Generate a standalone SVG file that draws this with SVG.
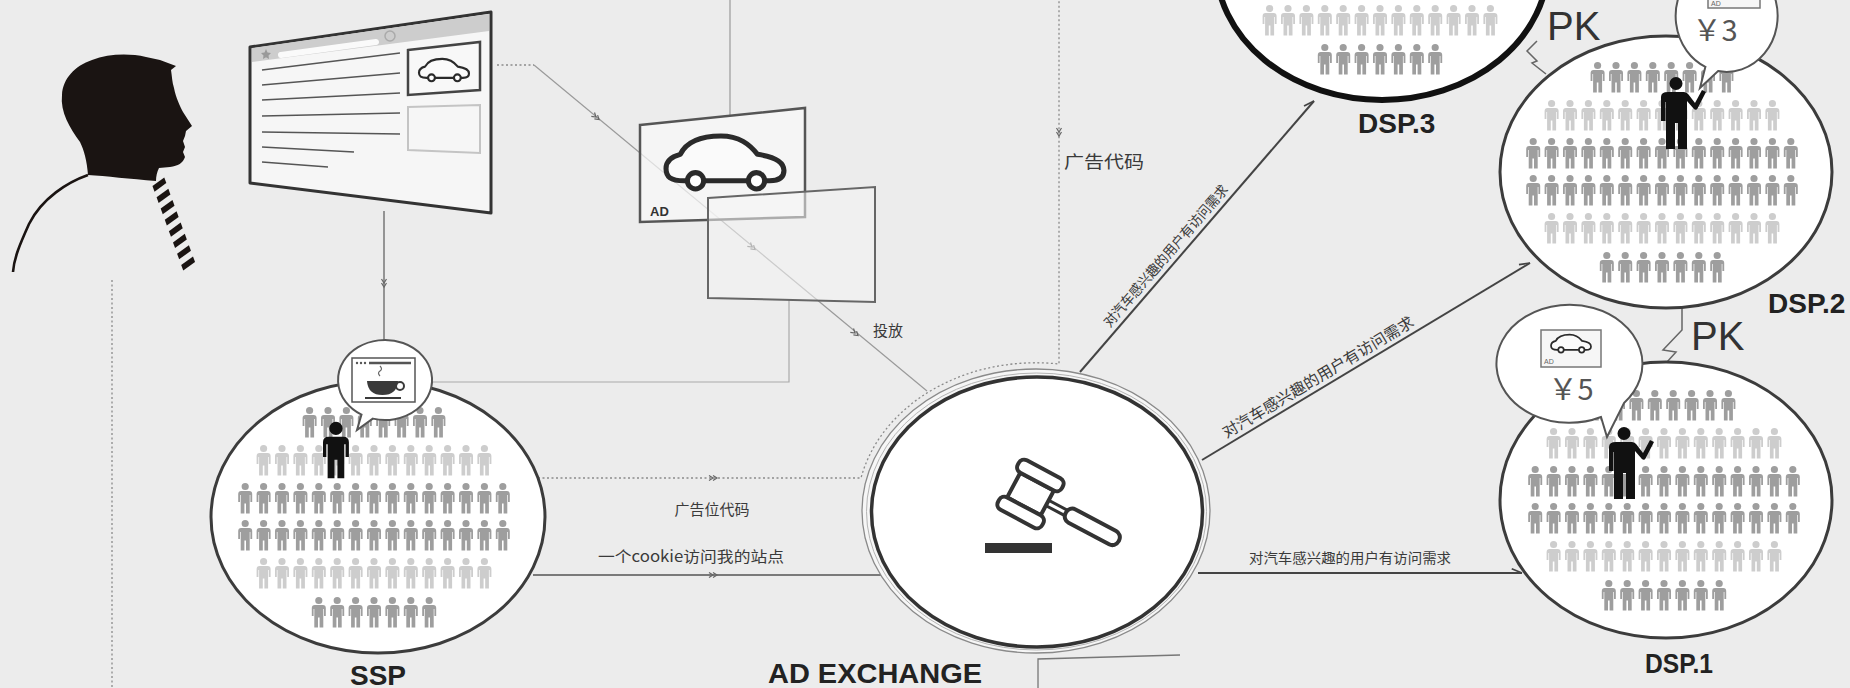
<svg xmlns="http://www.w3.org/2000/svg" xmlns:xlink="http://www.w3.org/1999/xlink" width="1850" height="688" viewBox="0 0 1850 688">
<style>
  .cjk{font-family:"Noto Sans CJK SC","Noto Sans",sans-serif;fill:#3a3a3a}
  .lbl{font-family:"Liberation Sans",Arial,sans-serif;font-weight:bold;fill:#222;font-size:28px}
  .pk{font-family:"Liberation Sans",Arial,sans-serif;fill:#333;font-size:40px}
  .yen{font-family:"Noto Sans CJK SC",sans-serif;fill:#555;font-size:29px}
  .light{fill:#cdcdcd}
  .mid{fill:#9e9e9e}
  .ring{fill:#fff;stroke:#3c3c3c;stroke-width:3}
  .conn{stroke:#444;stroke-width:2;fill:none}
  .dot{stroke:#8a8a8a;stroke-width:1.3;fill:none;stroke-dasharray:2 2.5}
  .thin{stroke:#9a9a9a;stroke-width:1.2;fill:none}
  .mk{fill:none;stroke:#666;stroke-width:1.2}
  .bub{fill:#fff;stroke:#555;stroke-width:2}
</style>
<defs>
  <!-- small person pictogram, 14 x 31 -->
  <path id="p" d="M3,8.5 H11 Q14,8.5 14,11.5 V19.5 H12.2 V12.5 H11.5 V31 H7.8 V21 H6.2 V31 H2.5 V12.5 H1.8 V19.5 H0 V11.5 Q0,8.5 3,8.5 Z M10.6,4 A3.6,3.6 0 1 1 3.4,4 A3.6,3.6 0 1 1 10.6,4 Z"/>
  <!-- person raising an arm -->
  <path id="pm" d="M8,15 H24 Q27,15 28.5,17.5 L35,26 L42,13 L46,15 L37.5,31.5 Q36,34 33.5,31.5 L27,24 V72 H18 V46 H15 V72 H6 V25 H5.5 V44 H1 V20 Q1,15 8,15 Z M22.5,6.5 A6.5,6.5 0 1 1 9.5,6.5 A6.5,6.5 0 1 1 22.5,6.5 Z"/>
  <g id="r15">
    <use href="#p" x="-135.8"/><use href="#p" x="-117.4"/><use href="#p" x="-99"/><use href="#p" x="-80.6"/><use href="#p" x="-62.2"/><use href="#p" x="-43.8"/><use href="#p" x="-25.4"/><use href="#p" x="-7"/><use href="#p" x="11.4"/><use href="#p" x="29.8"/><use href="#p" x="48.2"/><use href="#p" x="66.6"/><use href="#p" x="85"/><use href="#p" x="103.4"/><use href="#p" x="121.8"/>
  </g>
  <g id="r13">
    <use href="#p" x="-117.4"/><use href="#p" x="-99"/><use href="#p" x="-80.6"/><use href="#p" x="-62.2"/><use href="#p" x="-43.8"/><use href="#p" x="-25.4"/><use href="#p" x="-7"/><use href="#p" x="11.4"/><use href="#p" x="29.8"/><use href="#p" x="48.2"/><use href="#p" x="66.6"/><use href="#p" x="85"/><use href="#p" x="103.4"/>
  </g>
  <g id="r8">
    <use href="#p" x="-71.4"/><use href="#p" x="-53"/><use href="#p" x="-34.6"/><use href="#p" x="-16.2"/><use href="#p" x="2.2"/><use href="#p" x="20.6"/><use href="#p" x="39"/><use href="#p" x="57.4"/>
  </g>
  <g id="r7">
    <use href="#p" x="-62.2"/><use href="#p" x="-43.8"/><use href="#p" x="-25.4"/><use href="#p" x="-7"/><use href="#p" x="11.4"/><use href="#p" x="29.8"/><use href="#p" x="48.2"/>
  </g>
  <!-- car outline -->
  <symbol id="car" viewBox="0 0 120 58" overflow="visible">
    <path d="M20,46 C6,46 2,42 2,34 C2,26 8,22 16,20 C22,8 36,2 56,2 C74,2 84,10 92,20 C106,22 118,26 118,36 C118,42 114,46 104,46 Z" fill="#fafafa" stroke="#2a2a2a" stroke-width="5" stroke-linejoin="round"/>
    <circle cx="31" cy="46" r="8" fill="#fff" stroke="#2a2a2a" stroke-width="5"/>
    <circle cx="91" cy="46" r="8" fill="#fff" stroke="#2a2a2a" stroke-width="5"/>
  </symbol>
  <!-- double chevron flow mark -->
  <path id="mk" class="mk" d="M-4,-2.5 L0,0 L-4,2.5 M0,-2.5 L4,0 L0,2.5"/>
  <marker id="harp" markerUnits="userSpaceOnUse" markerWidth="16" markerHeight="12" viewBox="-14 -7 16 14" refX="0" refY="0" orient="auto" overflow="visible">
    <path d="M-12,-5 L0,0" fill="none" stroke="#444" stroke-width="2"/>
  </marker>
  <clipPath id="cut"><rect x="0" y="0" width="260" height="272"/></clipPath>
</defs>

<rect width="1850" height="688" fill="#ececec"/>

<!-- connectors -->
<g id="connectors">
  <path class="dot" d="M112,280 V688"/>
  <path d="M384,211 V358" stroke="#777" stroke-width="1.5" fill="none"/>
  <use href="#mk" transform="translate(384,283) rotate(90)"/>
  <path d="M432,382 H789 V300" stroke="#aaa" stroke-width="1.2" fill="none"/>
  <path class="thin" d="M730,0 V116"/>
  <path class="dot" d="M497,65 H534"/>
  <path class="thin" d="M534,65 L927,391"/>
  <use href="#mk" transform="translate(596,117) rotate(39.7)"/>
  <use href="#mk" transform="translate(752,247) rotate(39.7)"/>
  <use href="#mk" transform="translate(855,333) rotate(39.7)"/>
  <text class="cjk" x="873" y="336" font-size="15">投放</text>

  <path class="dot" d="M538,478 H861 A179,147 0 0 1 1059,364 V0"/>
  <use href="#mk" transform="translate(713,478)"/>
  <use href="#mk" transform="translate(1059,132) rotate(90)"/>
  <text class="cjk" x="1064" y="168" font-size="17" textLength="80" lengthAdjust="spacingAndGlyphs">广告代码</text>
  <text class="cjk" x="712" y="515" font-size="15" text-anchor="middle">广告位代码</text>

  <path d="M533,575 H881" stroke="#555" stroke-width="1.6" fill="none"/>
  <use href="#mk" transform="translate(713,575)"/>
  <text class="cjk" x="691" y="562" font-size="15" text-anchor="middle" textLength="186" lengthAdjust="spacingAndGlyphs">一个cookie访问我的站点</text>

  <path d="M1038,688 V659 L1180,655" stroke="#777" stroke-width="1.3" fill="none"/>

  <path class="conn" d="M1080,372 L1314,101" marker-end="url(#harp)"/>
  <text class="cjk" font-size="14" text-anchor="middle" transform="translate(1174,263) rotate(-49.2)" y="-6" textLength="182" lengthAdjust="spacingAndGlyphs">对汽车感兴趣的用户有访问需求</text>
  <path class="conn" d="M1202,460 L1530,263" marker-end="url(#harp)"/>
  <text class="cjk" font-size="15.5" text-anchor="middle" transform="translate(1324,387) rotate(-31)" y="-6" textLength="220" lengthAdjust="spacingAndGlyphs">对汽车感兴趣的用户有访问需求</text>
  <path class="conn" d="M1198,573 H1522" marker-end="url(#harp)"/>
  <text class="cjk" font-size="14" text-anchor="middle" x="1350" y="563" textLength="202" lengthAdjust="spacingAndGlyphs">对汽车感兴趣的用户有访问需求</text>

  <polyline points="1537,41 1527,51 1537,61 1532,63 1546,74" fill="none" stroke="#666" stroke-width="1.5"/>
  <polyline points="1682,308 1682,330 1663,350 1676,352 1667,362" fill="none" stroke="#666" stroke-width="1.5"/>
  <text class="pk" x="1547" y="40">PK</text>
  <text class="pk" x="1691" y="350">PK</text>
</g>

<!-- visitor -->
<g id="visitor">
  <path fill="#1a1412" d="M88,175 C87,161 84,150 80,142 C70,128 60,112 62,95 C63,78 75,66 92,60 C108,54 128,53 146,57 L160,60 L176,66 L171,70 C172,76 172,82 174,88 C176,98 180,106 183,112 L192,126 L186,131 L185,136 L183,141 L185,147 L183,152 L185,157 C183,163 178,166 170,167 L159,168 C157,172 156,176 156,181 C130,179 106,176 88,175 Z"/>
  <path d="M88,175 C68,182 42,198 29,224 C20,244 14,258 13,272" fill="none" stroke="#1a1412" stroke-width="2.6"/>
  <g clip-path="url(#cut)">
    <g transform="translate(157,178) rotate(-20)" fill="#1a1412">
      <polygon points="-7,6 7,2 7,8 -7,12"/>
      <polygon points="-7,18 7,14 7,20 -7,24"/>
      <polygon points="-7,30 7,26 7,32 -7,36"/>
      <polygon points="-7,42 7,38 7,44 -7,48"/>
      <polygon points="-7,54 7,50 7,56 -7,60"/>
      <polygon points="-7,66 7,62 7,68 -7,72"/>
      <polygon points="-7,78 7,74 7,80 -7,84"/>
      <polygon points="-7,90 7,86 7,92 -7,96"/>
    </g>
  </g>
</g>

<!-- web page -->
<g id="webpage">
  <polygon points="250,47 491,12 491,213 250,183" fill="#f6f6f6" stroke="#333" stroke-width="3" stroke-linejoin="round"/>
  <polygon points="252,48 489,14 489,31 252,62" fill="#cdcdcd"/>
  <path d="M281,55 L376,42" stroke="#fafafa" stroke-width="6" stroke-linecap="round"/>
  <circle cx="390" cy="36" r="5" fill="none" stroke="#aaa" stroke-width="1.5"/>
  <polygon points="266,49 267.5,52.5 271,53 268.5,55.5 269,59 266,57.3 263,59 263.5,55.5 261,53 264.5,52.5" fill="#999"/>
  <g stroke="#555" stroke-width="1.6" fill="none">
    <path d="M262,70 L400,53"/>
    <path d="M262,85 L400,73"/>
    <path d="M262,100 L400,93"/>
    <path d="M262,116 L400,113"/>
    <path d="M262,132 L400,134"/>
    <path d="M262,147 L354,152"/>
    <path d="M262,162 L328,167"/>
  </g>
  <polygon points="408,50 480,42 480,90 408,95" fill="#f8f8f8" stroke="#444" stroke-width="2.5"/>
  <use href="#car" x="418" y="58" width="52" height="25"/>
  <polygon points="408,107 480,105 480,153 408,150" fill="none" stroke="#c4c4c4" stroke-width="2"/>
</g>

<!-- creative frames -->
<g id="creative">
  <polygon points="640,125 805,108 805,217 640,222" fill="#fafafa" fill-opacity="0.7" stroke="#555" stroke-width="2.5"/>
  <use href="#car" x="664" y="134" width="122" height="59"/>
  <text x="650" y="216" font-family="Liberation Sans,Arial,sans-serif" font-weight="bold" font-size="13" fill="#333">AD</text>
  <polygon points="708,198 875,187 875,302 708,298" fill="#f4f4f4" fill-opacity="0.55" stroke="#666" stroke-width="2"/>
</g>

<!-- SSP -->
<g id="ssp">
  <ellipse cx="378" cy="517" rx="167" ry="136" class="ring"/>
  <use href="#r8" x="374" y="406.5" class="mid"/>
  <use href="#r13" x="374" y="444.5" class="light"/>
  <use href="#r15" x="374" y="482.5" class="mid"/>
  <use href="#r15" x="374" y="519.5" class="mid"/>
  <use href="#r13" x="374" y="557.5" class="light"/>
  <use href="#r7" x="374" y="596.5" class="mid"/>
  <use href="#p" transform="translate(323,421) scale(1.85)" fill="#111"/>
  <path class="bub" d="M372.8,418.6 A47,40 0 1 0 361.5,414.6 L357,430 Z"/>
  <rect x="352" y="358" width="63" height="44" fill="#fff" stroke="#555" stroke-width="1.5"/>
  <circle cx="357" cy="363" r="1.2" fill="#555"/><circle cx="361" cy="363" r="1.2" fill="#555"/><circle cx="365" cy="363" r="1.2" fill="#555"/>
  <path d="M369,363 H411" stroke="#555" stroke-width="2.5"/>
  <path d="M380,376 q-3,-3 0,-5 q3,-2 0,-5" fill="none" stroke="#666" stroke-width="1.2"/>
  <path d="M367,381 H398 Q397,395 382.5,395 Q368,395 367,381 Z" fill="#3a3a3a"/>
  <circle cx="400" cy="386" r="4" fill="none" stroke="#3a3a3a" stroke-width="2"/>
  <path d="M365,398 H401" stroke="#3a3a3a" stroke-width="2"/>
  <text class="lbl" x="350" y="685">SSP</text>
</g>

<!-- ad exchange -->
<g id="adx">
  <ellipse cx="1036" cy="511" rx="174" ry="142" fill="#f6f6f6" stroke="#8a8a8a" stroke-width="1.3"/>
  <ellipse cx="1036.5" cy="511.5" rx="170" ry="138.5" fill="none" stroke="#b4b4b4" stroke-width="1"/>
  <ellipse cx="1037" cy="512" rx="165.5" ry="135" fill="#fff" stroke="#333" stroke-width="3.5"/>
  <g transform="translate(1030.5,494) rotate(28)" fill="#fff" stroke="#333" stroke-width="4">
    <rect x="19" y="-3" width="23" height="6" stroke-width="3"/>
    <rect x="40" y="-7.5" width="60" height="15" rx="7"/>
    <rect x="-19" y="-14" width="38" height="28"/>
    <rect x="-25" y="-28" width="50" height="14" rx="6"/>
    <rect x="-25" y="14" width="50" height="14" rx="6"/>
  </g>
  <rect x="985" y="543" width="67" height="10" fill="#333"/>
  <text class="lbl" x="768" y="683" textLength="214" lengthAdjust="spacingAndGlyphs" font-size="25">AD EXCHANGE</text>
</g>

<!-- DSP.3 -->
<g id="dsp3">
  <ellipse cx="1382" cy="-36" rx="166" ry="136" fill="#fff" stroke="#111" stroke-width="6"/>
  <use href="#r13" x="1380" y="4.5" class="light"/>
  <use href="#r7" x="1380" y="43.5" class="mid"/>
  <text class="lbl" x="1358" y="133">DSP.3</text>
</g>

<!-- DSP.2 -->
<g id="dsp2">
  <ellipse cx="1666" cy="172" rx="166" ry="136" class="ring" stroke="#444" stroke-width="2.5"/>
  <use href="#r8" x="1662" y="61.5" class="mid"/>
  <use href="#r13" x="1662" y="99.5" class="light"/>
  <use href="#r15" x="1662" y="137.5" class="mid"/>
  <use href="#r15" x="1662" y="174.5" class="mid"/>
  <use href="#r13" x="1662" y="212.5" class="light"/>
  <use href="#r7" x="1662" y="251.5" class="mid"/>
  <use href="#pm" x="1660" y="77" fill="#111"/>
  <path class="bub" d="M1718.1,71.1 A51,56 0 1 0 1705.4,66.8 L1700,88 Z"/>
  <rect x="1708" y="-24" width="52" height="32" fill="#f6f6f6" stroke="#777" stroke-width="1.5"/>
  <use href="#car" x="1715" y="-20" width="38" height="18"/>
  <text x="1711" y="6" font-family="Liberation Sans,Arial,sans-serif" font-size="7" fill="#666">AD</text>
  <text class="yen" x="1715" y="41" text-anchor="middle">￥3</text>
  <text class="lbl" x="1768" y="313">DSP.2</text>
</g>

<!-- DSP.1 -->
<g id="dsp1">
  <ellipse cx="1666" cy="500" rx="166" ry="138" class="ring" stroke="#444" stroke-width="2.5"/>
  <use href="#r8" x="1664" y="389.5" class="mid"/>
  <use href="#r13" x="1664" y="427.5" class="light"/>
  <use href="#r15" x="1664" y="465.5" class="mid"/>
  <use href="#r15" x="1664" y="502.5" class="mid"/>
  <use href="#r13" x="1664" y="540.5" class="light"/>
  <use href="#r7" x="1664" y="579.5" class="mid"/>
  <use href="#pm" x="1608" y="427" fill="#111"/>
  <path class="bub" d="M1624,403 A73,59 0 1 0 1601,417 L1607,437 Z"/>
  <rect x="1541" y="330" width="60" height="37" fill="#f6f6f6" stroke="#777" stroke-width="1.5"/>
  <use href="#car" x="1550" y="334" width="42" height="20"/>
  <text x="1544" y="364" font-family="Liberation Sans,Arial,sans-serif" font-size="7" fill="#666">AD</text>
  <text class="yen" x="1571" y="400" text-anchor="middle">￥5</text>
  <text class="lbl" x="1645" y="673" textLength="68" lengthAdjust="spacingAndGlyphs">DSP.1</text>
</g>
</svg>
